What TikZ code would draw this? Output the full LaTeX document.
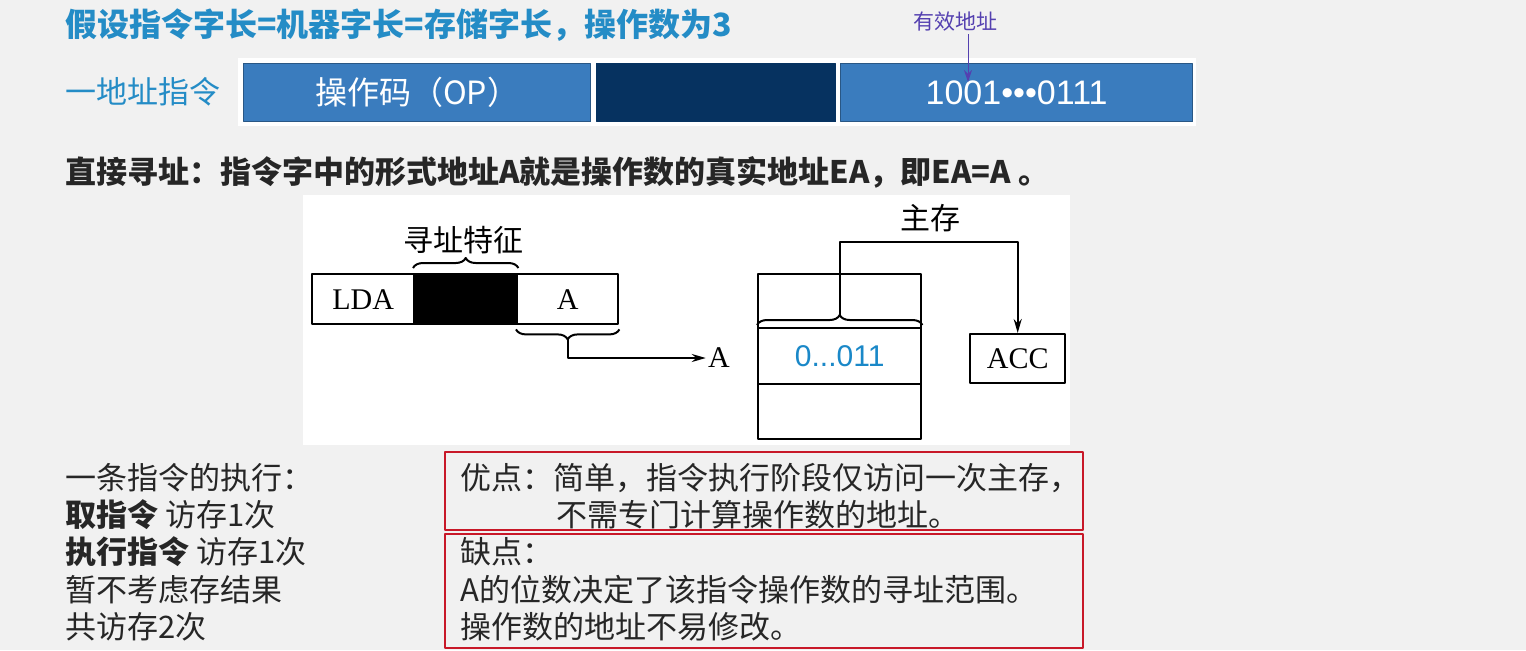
\documentclass[tikz,border=0pt]{standalone}
\usepackage{fontspec}
\setmainfont{Liberation Serif}
\newfontfamily\cjk{Noto Sans CJK SC}
\newfontfamily\numfont{Liberation Sans}
\usepackage{tikz}
\usetikzlibrary{arrows.meta,calc,positioning,decorations.pathreplacing}
\definecolor{ttl}{RGB}{36,140,198}
\definecolor{opb}{RGB}{58,124,190}
\definecolor{dkblue}{RGB}{6,50,96}
\definecolor{eac}{RGB}{84,64,176}
\definecolor{redb}{RGB}{200,24,40}
\definecolor{cellc}{RGB}{26,136,200}
\definecolor{bgc}{RGB}{241,241,241}

\begin{document}
\begin{tikzpicture}[x=0.5pt,y=-0.5pt,line join=round,
  txt/.style={font=\cjk\fontsize{15.5pt}{18pt}\selectfont,anchor=west,inner sep=0pt,text=black!85},
  fld/.style={draw=opb!70!black,line width=0.6pt,anchor=north west,inner sep=0pt,minimum height=29pt,text=white},
  cell/.style={draw,line width=1.2pt,anchor=north west,inner sep=0pt,minimum width=81.5pt,font=\fontsize{15pt}{18pt}\selectfont},
  brc/.style={decorate,decoration={brace,amplitude=5pt},line width=1pt},
  redbox/.style={draw=redb,line width=1pt,anchor=north west,inner sep=0pt,minimum width=319pt},
  >={Stealth[length=7pt,width=4pt]}]
  \fill[bgc] (0,0) rectangle (1526,650);
  \node[txt,font=\cjk\bfseries\fontsize{16pt}{18pt}\selectfont,text=ttl] (title) at (65,25) {假设指令字长=机器字长=存储字长，操作数为3};
  \node[txt,font=\cjk\fontsize{15.5pt}{18pt}\selectfont,text=ttl] (kind) at (65,92) {一地址指令};
  \fill[white] (238,58) rectangle (1196,126);
  \node[fld,fill=opb,minimum width=173.5pt,font=\cjk\fontsize{16pt}{18pt}\selectfont] (op) at (243,63) {操作码（OP）};
  \node[fld,fill=dkblue,draw=dkblue,minimum width=119.5pt] (mode) at (596,63) {};
  \node[fld,fill=opb,minimum width=176pt,font=\numfont\fontsize{17pt}{18pt}\selectfont] (addr) at (840,63) {1001•••0111};
  \node[font=\cjk\fontsize{10.5pt}{12pt}\selectfont,text=eac,inner sep=1pt] (ea) at (955,22) {有效地址};
  \coordinate (eatip) at (968,82);
  \draw[->,eac,line width=0.5pt,>={Stealth[length=6pt,width=4pt]}] (ea.south -| eatip) -- (eatip);
  \node[txt,font=\cjk\bfseries\fontsize{15.5pt}{18pt}\selectfont] (defn) at (65,172) {直接寻址：指令字中的形式地址A就是操作数的真实地址EA，即EA=A 。};
  \fill[white] (303,195) rectangle (1070,445);
  \node[cell,minimum width=51pt,minimum height=25pt] (lda) at (311,273) {LDA};
  \node[cell,fill=black,minimum width=51.5pt,minimum height=25pt] (feat) at (413,273) {};
  \node[cell,minimum width=50.5pt,minimum height=25pt] (fa) at (516,273) {A};
  \draw[brc] ([yshift=2.5pt]feat.north west) -- ([yshift=2.5pt]feat.north east);
  \node[font=\cjk\fontsize{15pt}{18pt}\selectfont] (featlbl) at (463,240) {寻址特征};
  \draw[brc] ([yshift=-2pt]fa.south east) -- ([yshift=-2pt]fa.south west);
  \coordinate (fatip) at ($(fa.south)+(0,14)$);
  \node[font=\fontsize{15pt}{18pt}\selectfont,inner sep=1pt] (memA) at (719,358) {A};
  \draw[->,line width=1pt] (fatip) |- (memA.west);
  \node[cell,minimum height=27pt] (m0) at (757,273) {};
  \node[cell,minimum height=28pt,font=\numfont\fontsize{15pt}{16pt}\selectfont,text=cellc] (m1) at (757,327) {0...011};
  \node[cell,minimum height=27.5pt] (m2) at (757,383) {};
  \draw[brc] ([yshift=1pt]m1.north west) -- ([yshift=1pt]m1.north east);
  \coordinate (m1tip) at ($(m1.north)+(0,-12)$);
  \node[font=\cjk\fontsize{15pt}{18pt}\selectfont] (mainlbl) at (930,218) {主存};
  \node[cell,minimum width=47.5pt,minimum height=24.5pt] (acc) at (969,333) {ACC};
  \draw[->,line width=1pt] (m1tip) -- ++(0,-73) -| (acc.north);
  \node[txt] (run) at (65,478) {一条指令的执行：};
  \node[txt] (fetch) at (65,515) {{\bfseries 取指令} 访存1次};
  \node[txt] (exec) at (65,552) {{\bfseries 执行指令} 访存1次};
  \node[txt] (skip) at (65,590) {暂不考虑存结果};
  \node[txt] (total) at (65,627) {共访存2次};
  \node[redbox,minimum height=39pt] (pros) at (444,451) {};
  \node[redbox,minimum height=57pt] (cons) at (444,533) {};
  \node[txt] (pro1) at (460,478) {优点：简单，指令执行阶段仅访问一次主存，};
  \node[txt] (pro2) at (556,515) {不需专门计算操作数的地址。};
  \node[txt] (con0) at (460,552) {缺点：};
  \node[txt] (con1) at (460,590) {A的位数决定了该指令操作数的寻址范围。};
  \node[txt] (con2) at (460,627) {操作数的地址不易修改。};
\end{tikzpicture}
\end{document}
